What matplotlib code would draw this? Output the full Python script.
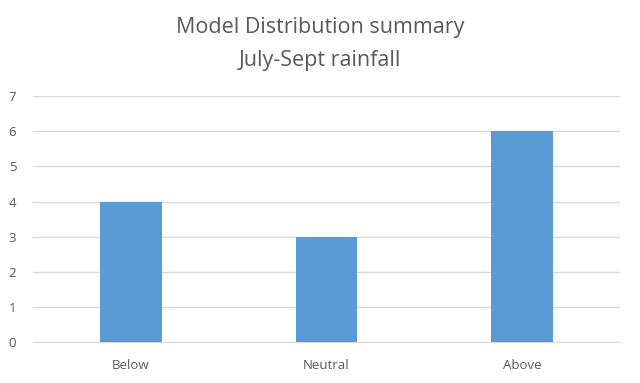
import matplotlib
matplotlib.use("Agg")
import matplotlib.pyplot as plt

categories = ["Below", "Neutral", "Above"]
values = [4, 3, 6]
yticks = [0, 1, 2, 3, 4, 5, 6, 7]

plt.rcParams['font.family'] = ['Open Sans', 'DejaVu Sans']

fig = plt.figure(figsize=(6.4, 3.83), dpi=100)
ax = fig.add_axes([0.0516, 0.107, 0.917, 0.642])
x = range(len(categories))
ax.bar(x, values, width=0.315, color="#5B9BD5", zorder=3)
ax.set_xlim(-0.5, len(categories) - 0.5)
ax.set_ylim(0, 7)
ax.set_yticks(yticks)
ax.set_xticks(list(x))
ax.set_xticklabels(categories)
ax.grid(axis='y', color="#D9D9D9", linewidth=1, zorder=0)
for s in ['top', 'right', 'left']:
    ax.spines[s].set_visible(False)
ax.spines['bottom'].set_color("#D9D9D9")
ax.tick_params(axis='both', length=0, labelsize=9.5, colors="#595959")
ax.tick_params(axis='y', pad=12)
ax.tick_params(axis='x', pad=12)
fig.text(0.5, 0.885, "Model Distribution summary\nJuly-Sept rainfall", ha='center', va='center',
         fontsize=15.5, color="#595959", linespacing=1.7)
fig.savefig("out.png", dpi=100)
